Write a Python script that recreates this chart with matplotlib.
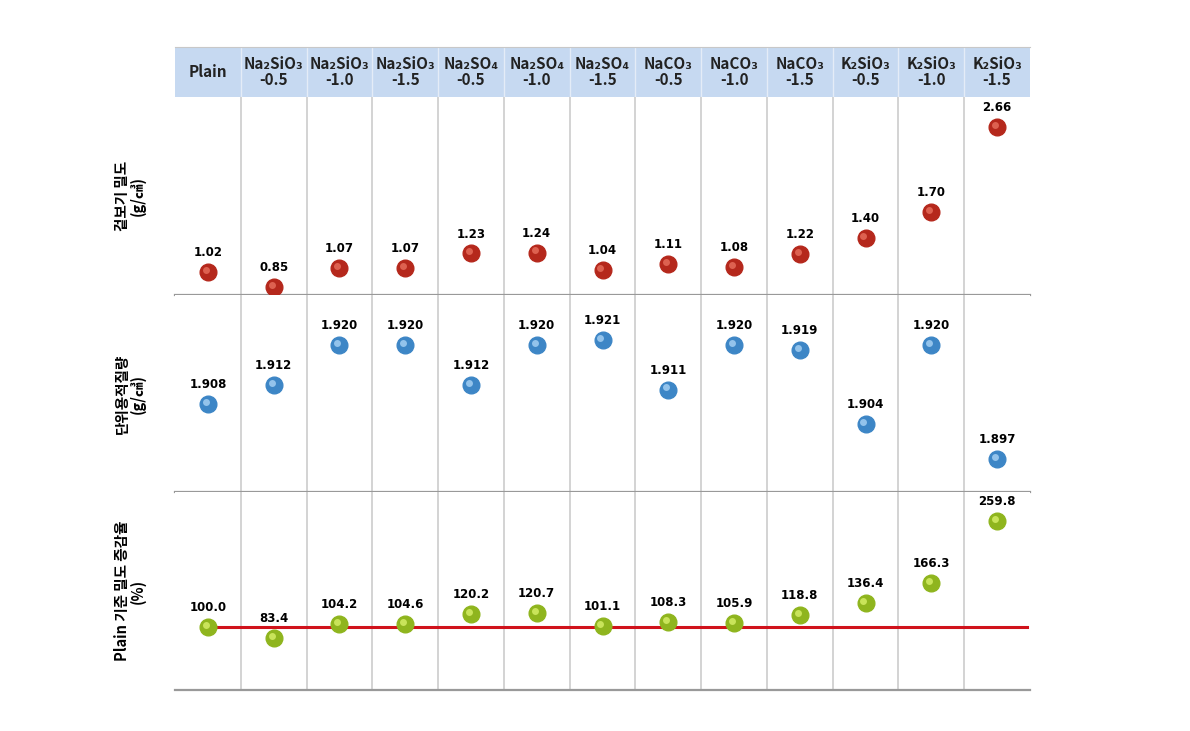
import matplotlib
matplotlib.use('Agg')
import matplotlib.pyplot as plt
import matplotlib.transforms as mtransforms
import numpy as np

plt.rcParams['font.family'] = ['Noto Sans CJK KR', 'DejaVu Sans']

# 데이터
names = ['Plain', 'Na₂SiO₃\n-0.5', 'Na₂SiO₃\n-1.0', 'Na₂SiO₃\n-1.5',
         'Na₂SO₄\n-0.5', 'Na₂SO₄\n-1.0', 'Na₂SO₄\n-1.5',
         'NaCO₃\n-0.5', 'NaCO₃\n-1.0', 'NaCO₃\n-1.5',
         'K₂SiO₃\n-0.5', 'K₂SiO₃\n-1.0', 'K₂SiO₃\n-1.5']
bulk_density = [1.02, 0.85, 1.07, 1.07, 1.23, 1.24, 1.04, 1.11, 1.08, 1.22, 1.40, 1.70, 2.66]
unit_mass = [1.908, 1.912, 1.920, 1.920, 1.912, 1.920, 1.921, 1.911, 1.920, 1.919, 1.904, 1.920, 1.897]
ratio = [100.0, 83.4, 104.2, 104.6, 120.2, 120.7, 101.1, 108.3, 105.9, 118.8, 136.4, 166.3, 259.8]

row_labels = ['겉보기 밀도\n(g/㎤)', '단위용적질량\n(g/㎤)', 'Plain 기준 밀도 증감율\n(%)']
fmts = ['{:.2f}', '{:.3f}', '{:.1f}']
ylims = [(0.76, 3.0), (1.8903, 1.9301), (5, 304)]
colors = [('#b5281c', '#e8705e'), ('#3d86c6', '#a9d3f5'), ('#8fb51e', '#d8f06a')]

W, H = 1190, 731
fig = plt.figure(figsize=(W / 100, H / 100), dpi=100)

left, right = 175, 1030
x = np.arange(len(names))

def box(top, bottom):
    return [left / W, 1 - bottom / H, (right - left) / W, (bottom - top) / H]

# 헤더
hax = fig.add_axes(box(47, 97))
hax.set_xlim(-0.5, len(names) - 0.5)
hax.set_ylim(0, 1)
hax.set_facecolor('#c6d9f1')
for s in hax.spines.values():
    s.set_visible(False)
hax.spines['top'].set_visible(True)
hax.spines['top'].set_color('#c8c8c8')
hax.set_xticks([])
hax.set_yticks([])
for i in range(len(names) - 1):
    hax.axvline(i + 0.5, color='#e4ecf7', lw=1)
for i, n in enumerate(names):
    hax.text(i, 0.5, n, ha='center', va='center', fontsize=11, fontweight='bold',
             color='#222222', linespacing=1.05)

rows = [(97, 295), (295, 492), (492, 690)]
for k, (top, bottom) in enumerate(rows):
    ax = fig.add_axes(box(top, bottom))
    ax.set_xlim(-0.5, len(names) - 0.5)
    ax.set_ylim(*ylims[k])
    ax.set_xticks([])
    ax.set_yticks([])
    for s in ax.spines.values():
        s.set_visible(False)
    ax.spines['bottom'].set_visible(True)
    ax.spines['bottom'].set_color('#999999')
    ax.spines['bottom'].set_linewidth(1.6)
    for i in range(len(names) - 1):
        ax.axvline(i + 0.5, color='#cccccc', lw=1.2, zorder=0)

    vals = [bulk_density, unit_mass, ratio][k]
    if k == 2:
        ax.plot([0, 12.45], [100, 100], color='#d0121b', lw=2.2, zorder=1)
    base, light = colors[k]
    ax.plot(x, vals, 'o', ms=12, color=base, mec=base, zorder=3)
    hl = mtransforms.offset_copy(ax.transData, fig=fig, x=-1.5, y=1.5, units='points')
    ax.plot(x, vals, 'o', ms=5, color=light, mec='none', alpha=0.8,
            transform=hl, zorder=4)
    for xi, v in zip(x, vals):
        ax.annotate(fmts[k].format(v), (xi, v), xytext=(0, 14), textcoords='offset points',
                    ha='center', va='center', fontsize=8.5, fontweight='bold',
                    family=['DejaVu Sans'])

    fig.text(130 / W, 1 - (top + bottom) / 2 / H, row_labels[k], rotation=90,
             ha='center', va='center', fontsize=10.5, fontweight='bold',
             multialignment='center', linespacing=1.0)

fig.savefig('out.png', dpi=100)
